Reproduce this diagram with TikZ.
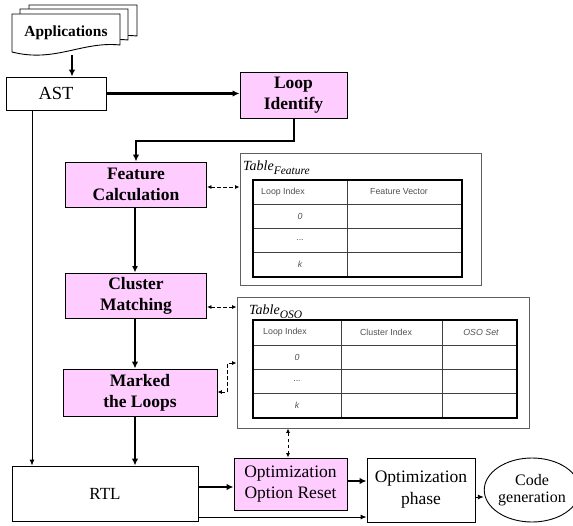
\documentclass[tikz,border=0pt]{standalone}
\usepackage{fontspec}
\setmainfont{Liberation Serif}
\newfontfamily\tabfont{Liberation Sans}
\usetikzlibrary{arrows.meta,calc,shapes.geometric}
\definecolor{stepfill}{HTML}{FFCCFF}
\definecolor{tabgray}{HTML}{505050}
\definecolor{framegray}{HTML}{606060}

\begin{document}
\begin{tikzpicture}[x=1pt,y=-1pt,
  box/.style={draw, line width=0.9pt, inner sep=0pt, align=center,
    font=\fontsize{17.5}{21}\selectfont},
  pinkbox/.style={box, fill=stepfill, font=\bfseries\fontsize{17.5}{21}\selectfont},
  tabframe/.style={draw=framegray, line width=0.9pt, inner sep=0pt},
  tabtitle/.style={anchor=base west, inner sep=0pt, font=\itshape\fontsize{14}{16}\selectfont},
  tabtext/.style={inner sep=0pt, text=tabgray, font=\tabfont\fontsize{8.8}{10}\selectfont},
  tabital/.style={tabtext, font=\tabfont\itshape\fontsize{8.8}{10}\selectfont},
  tabgrid/.style={draw=black!75, line width=0.9pt},
  tabedge/.style={draw, line width=2pt},
  bigarrow/.style={line width=2.6pt, -{Latex[length=7pt,width=6.5pt]}},
  midarrow/.style={line width=2pt, -{Latex[length=6.5pt,width=6pt]}},
  thinarrow/.style={line width=0.9pt, -{Latex[length=6pt,width=5pt]}},
  dasharrow/.style={line width=0.9pt, dash pattern=on 3.5pt off 2.5pt,
    {Latex[length=4.5pt,width=4pt]}-{Latex[length=4.5pt,width=4pt]}},
  docsheet/.style={draw, line width=0.9pt, fill=white}
]
\useasboundingbox (0,0) rectangle (573,525);

% stacked input documents
\foreach \dx/\dy in {17/-9, 8/-5, 0/0} {
  \path[docsheet, shift={(\dx,\dy)}]
    (12,14) -- (120,14) -- (120,45)
    .. controls (82,41) and (55,63) .. (12,52) -- cycle;
}
\node[inner sep=0pt, font=\bfseries\fontsize{15.4}{18}\selectfont] (app) at (66,33) {Applications};
\coordinate (appout) at (72,55);

% main flow boxes
\node[box, minimum width=100pt, minimum height=33pt, font=\fontsize{18.5}{21}\selectfont] (ast) at (56,93.5) {AST};
\node[pinkbox, minimum width=107pt, minimum height=46pt] (loop) at (293.5,95) {Loop\\Identify};
\node[pinkbox, minimum width=141pt, minimum height=45pt] (feat) at (136,184.5) {Feature\\Calculation};
\node[pinkbox, minimum width=141pt, minimum height=45pt] (clus) at (136,295.5) {Cluster\\Matching};
\node[pinkbox, minimum width=154pt, minimum height=47pt] (mark) at (140,392.5) {Marked\\the Loops};
\node[box, minimum width=186pt, minimum height=55pt, font=\fontsize{17}{21}\selectfont] (rtl) at (105,493.5) {RTL};
\node[box, fill=stepfill, minimum width=113pt, minimum height=52pt, font=\fontsize{17.5}{21}\selectfont] (oor) at (290.5,484) {Optimization\\Option Reset};
\node[box, minimum width=108pt, minimum height=64pt, font=\fontsize{17.5}{22}\selectfont] (opt) at (421,490) {Optimization\\phase};
\node[box, ellipse, minimum width=72pt, minimum height=64pt, font=\fontsize{16}{16.5}\selectfont] (code) at (532,490) {Code\\generation};

% feature table
\node[tabframe, minimum width=241pt, minimum height=132pt] (tf) at (360.5,219) {};
\node[tabtitle] (tftitle) at (243,170)
  {Table\raisebox{-4.5pt}{\fontsize{11.5}{12}\selectfont Feature}};
\draw[tabgrid] (347,180) -- (347,277);
\foreach \yy in {204,228,252} \draw[tabgrid] (253,\yy) -- (462,\yy);
\draw[tabedge] (253,180) rectangle (462,277);
\node[tabtext] (tfh1) at (283,192) {Loop Index};
\node[tabtext] (tfh2) at (399,192) {Feature Vector};
\node[tabital] (tfr1) at (300,216) {0};
\node[tabtext] (tfr2) at (300,240) {...};
\node[tabital] (tfr3) at (300,264) {k};

% OSO table
\node[tabframe, minimum width=292pt, minimum height=131pt] (to) at (383,362.5) {};
\node[tabtitle] (totitle) at (249,314)
  {Table\raisebox{-4.5pt}{\fontsize{11.5}{12}\selectfont OSO}};
\draw[tabgrid] (341,320) -- (341,418);
\draw[tabgrid] (442,320) -- (442,418);
\foreach \yy in {345,369,393} \draw[tabgrid] (253,\yy) -- (517,\yy);
\draw[tabedge] (253,320) rectangle (517,418);
\node[tabtext] (toh1) at (285,332.5) {Loop Index};
\node[tabtext] (toh2) at (386,332.5) {Cluster Index};
\node[tabital] (toh3) at (481,332.5) {OSO Set};
\node[tabital] (tor1) at (297,357) {0};
\node[tabtext] (tor2) at (297,381) {...};
\node[tabital] (tor3) at (297,405) {k};

% connectors of the main flow
\coordinate (col) at (135,0);
\draw[bigarrow] (appout) -- (appout |- ast.north);
\draw[bigarrow] (ast.east) -- (ast.east -| loop.west);
\coordinate (bend) at (294,141);
\draw[bigarrow] (loop.south -| bend) -- (bend) -| (feat.north);
\draw[midarrow] (feat.south -| col) -- (clus.north -| col);
\draw[bigarrow] (clus.south -| col) -- (mark.north -| col);
\draw[bigarrow] (mark.south -| col) -- (rtl.north -| col);
\draw[thinarrow] (ast.south -| 32,0) -- (rtl.north -| 32,0);
\draw[bigarrow] (rtl.east |- 0,487) -- (oor.west |- 0,487);
\draw[bigarrow] (oor.east |- 0,481) -- (opt.west |- 0,481);
\draw[thinarrow] (rtl.east |- 0,517) -- (opt.west |- 0,517);
\draw[thinarrow] (opt.east |- 0,497) -- (code.west |- 0,497);

% table accesses
\draw[dasharrow] (feat.east |- 0,187) -- (tf.west |- 0,187);
\draw[dasharrow] (clus.east |- 0,307) -- (to.west |- 0,307);
\coordinate (jog) at (227,363);
\draw[dasharrow] (mark.east |- 0,392) -- (jog |- 0,392) -- (jog) -- (to.west |- jog);
\draw[dasharrow] (to.south -| 288,0) -- (oor.north -| 288,0);
\end{tikzpicture}
\end{document}
